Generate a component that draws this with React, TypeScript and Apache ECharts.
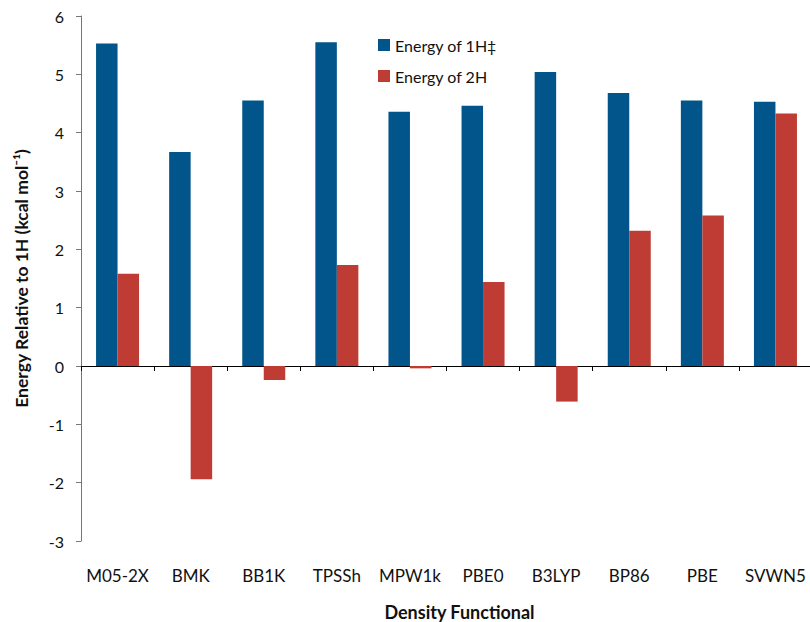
import React, { useEffect, useRef } from "react";
import * as echarts from "echarts";

const categories = ["M05-2X", "BMK", "BB1K", "TPSSh", "MPW1k", "PBE0", "B3LYP", "BP86", "PBE", "SVWN5"];
const energy1H = [5.53, 3.67, 4.55, 5.55, 4.36, 4.46, 5.04, 4.68, 4.55, 4.53];
const energy2H = [1.58, -1.94, -0.24, 1.73, -0.04, 1.44, -0.61, 2.32, 2.58, 4.33];
const seriesNames = ["Energy of 1H‡", "Energy of 2H"];
const yAxisTitle = "Energy Relative to 1H (kcal mol⁻¹)";
const xAxisTitle = "Density Functional";

const FONT = "Lato";

export default function App() {
  const ref = useRef<HTMLDivElement>(null);
  useEffect(() => {
    if (!ref.current) return;
    const chart = echarts.init(ref.current, undefined, { renderer: "svg" });
    chart.setOption({
      animation: false,
      backgroundColor: "#ffffff",
      textStyle: { fontFamily: FONT },
      legend: {
        orient: "vertical",
        left: 373,
        top: 32,
        itemWidth: 12,
        itemHeight: 12,
        itemGap: 15,
        icon: "rect",
        textStyle: { fontSize: 16, color: "#111", fontFamily: FONT },
        data: seriesNames,
      },
      grid: { left: 81, right: -2, top: 16, bottom: 81, containLabel: false, outerBoundsMode: "none" },
      xAxis: [
        {
          type: "category",
          data: categories,
          position: "bottom",
          axisLine: { show: false, onZero: false },
          axisTick: { show: false },
          axisLabel: { fontSize: 17, color: "#111", margin: 26, interval: 0, fontFamily: FONT },
          name: xAxisTitle,
          nameLocation: "middle",
          nameGap: 62,
          nameTextStyle: {
            fontSize: 18,
            fontWeight: "bold",
            color: "#111",
            fontFamily: FONT,
            padding: [0, 0, 0, 26],
          },
        },
        {
          type: "category",
          data: categories,
          position: "top",
          axisLine: { show: true, onZero: true, lineStyle: { color: "#000", width: 1 } },
          axisTick: { show: true, inside: true, length: 5, interval: 0, lineStyle: { color: "#000" } },
          axisLabel: { show: false },
        },
      ],
      yAxis: {
        type: "value",
        min: -3,
        max: 6,
        interval: 1,
        splitLine: { show: false },
        axisLine: { show: true, lineStyle: { color: "#777", width: 1 } },
        axisTick: { show: true, length: 5, lineStyle: { color: "#777" } },
        axisLabel: { fontSize: 16, color: "#111", margin: 17, fontFamily: FONT },
        name: yAxisTitle,
        nameLocation: "middle",
        nameGap: 51,
        nameRotate: 90,
        nameTextStyle: { fontSize: 17.5, fontWeight: "bold", color: "#111", fontFamily: FONT },
      },
      series: [
        {
          name: seriesNames[0],
          type: "bar",
          xAxisIndex: 0,
          data: energy1H,
          barWidth: 21.5,
          barGap: "0%",
          itemStyle: { color: "#02558a" },
        },
        {
          name: seriesNames[1],
          type: "bar",
          xAxisIndex: 0,
          data: energy2H,
          barWidth: 21.5,
          barGap: "0%",
          itemStyle: { color: "#be3c33" },
        },
      ],
    });
    return () => chart.dispose();
  }, []);
  return (
    <div
      ref={ref}
      style={{ position: "fixed", left: 0, top: 0, width: 810, height: 622 }}
    />
  );
}
